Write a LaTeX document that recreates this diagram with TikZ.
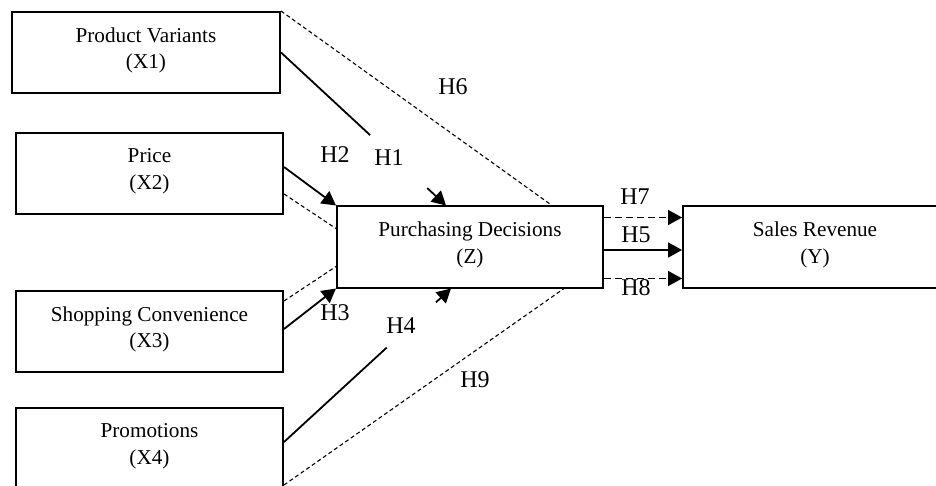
\documentclass[tikz,border=0pt]{standalone}
\usepackage{fontspec}
\setmainfont{Liberation Serif}
\usetikzlibrary{arrows.meta,calc}
\newcommand\dropfix{\rule[-4.3pt]{0pt}{4.3pt}}
\begin{document}
\begin{tikzpicture}[x=0.5pt,y=-0.5pt,
  box/.style={draw, line width=1pt, minimum width=#1, minimum height=40.5pt, inner sep=0pt, align=center, font=\fontsize{10.6}{13.25}\selectfont},
  hlab/.style={inner sep=0pt, font=\fontsize{12}{14}\selectfont},
  solidline/.style={line width=0.9pt},
  arr/.style={line width=0.9pt, -{Triangle[length=7pt,width=7.5pt]}},
  thindash/.style={line width=0.55pt, dash pattern=on 2pt off 1.4pt},
  thickdash/.style={line width=0.9pt, dash pattern=on 3.5pt off 2pt, -{Triangle[length=7pt,width=7.5pt]}},
]
\clip (0,0) rectangle (936,486);
\fill[white] (0,0) rectangle (936,486);

% boxes
\node[box=134pt] (X1) at (146,52.5) {Product Variants\\(X1)\dropfix};
\node[box=133.5pt] (X2) at (149.5,173.5) {Price\\(X2)\dropfix};
\node[box=133.5pt] (X3) at (149.5,331.5) {Shopping Convenience\\(X3)\dropfix};
\node[box=133.5pt] (X4) at (149.5,448.5) {Promotions\\(X4)\dropfix};
\node[box=133pt] (Z) at (470,247) {Purchasing Decisions\\(Z)\dropfix};
\node[box=132pt] (Y) at (815,247) {Sales Revenue\\(Y)\dropfix};

% H1
\coordinate (h1e) at ($(Z.north west)+(110,0)$);
\draw[solidline] (X1.east) -- ($(X1.east)!0.54!(h1e)$);
\draw[arr] ($(X1.east)!0.886!(h1e)$) -- (h1e);
% H6
\draw[thindash] (X1.north east) -- ($(Z.north west)+(216,0)$);
% H2
\draw[arr] ($(X2.north east)+(0,35)$) -- (Z.north west);
\draw[thindash] ($(X2.north east)+(0,62)$) -- ($(Z.north west)+(0,23)$);
% H3
\draw[thindash] ($(X3.north east)+(0,11)$) -- ($(Z.south west)+(0,-22)$);
\draw[arr] ($(X3.north east)+(0,39)$) -- (Z.south west);
% H4
\coordinate (h4e) at ($(Z.south west)+(115,0)$);
\coordinate (h4s) at ($(X4.north east)+(0,35)$);
\draw[solidline] (h4s) -- ($(h4s)!0.615!(h4e)$);
\draw[arr] ($(h4s)!0.91!(h4e)$) -- (h4e);
% H9
\draw[thindash] ($(X4.north east)+(0,78)$) -- ($(Z.south west)+(228,0)$);
% H7 H5 H8
\draw[thickdash] ($(Z.north east)+(0,12)$) -- ($(Y.north west)+(0,12)$);
\draw[arr] ($(Z.east)+(0,3)$) -- ($(Y.west)+(0,3)$);
\draw[thickdash] ($(Z.south east)+(0,-10)$) -- ($(Y.south west)+(0,-10)$);

% labels
\node[hlab] (L6) at (453,87) {H6};
\node[hlab] (L1) at (389,158) {H1};
\node[hlab] (L2) at (335,155) {H2};
\node[hlab] (L3) at (335,313) {H3};
\node[hlab] (L4) at (401,326) {H4};
\node[hlab] (L9) at (475,380) {H9};
\node[hlab] (L7) at (635,197) {H7};
\node[hlab] (L5) at (636,235) {H5};
\node[hlab] (L8) at (636,288) {H8};
\end{tikzpicture}
\end{document}
